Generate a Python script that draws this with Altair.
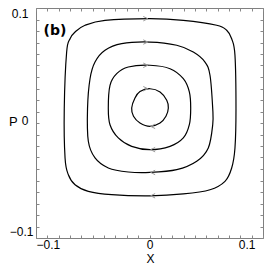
import altair as alt
import pandas as pd

# ---- data (data units) ----
inner_x = [0.0004, 0.0093, 0.0152, 0.0166, 0.0145, 0.0093, 0.0004, -0.0084, -0.0141, -0.0157, -0.0128, -0.0084]
inner_y = [0.0298, 0.0270, 0.0197, 0.0130, 0.0058, 0.0000, -0.0029, 0.0000, 0.0058, 0.0130, 0.0217, 0.0274]

second_x = [0.0004, 0.0181, 0.0298, 0.0351, 0.0363, 0.0351, 0.0298, 0.0181, 0.0004, -0.0157, -0.0275, -0.0348,
            -0.0363, -0.0348, -0.0289, -0.0187]
second_y = [0.0502, 0.0472, 0.0385, 0.0270, 0.0128, -0.0015, -0.0130, -0.0203, -0.0232, -0.0203, -0.0130, -0.0015,
            0.0128, 0.0328, 0.0429, 0.0487]

third_x = [0.0004, 0.0240, 0.0386, 0.0489, 0.0533, 0.0557, 0.0557, 0.0518, 0.0416, 0.0240, 0.0004, -0.0187,
           -0.0363, -0.0480, -0.0539, -0.0546, -0.0524, -0.0480, -0.0392, -0.0245]
third_y = [0.0704, 0.0676, 0.0617, 0.0530, 0.0415, 0.0126, -0.0015, -0.0217, -0.0333, -0.0406, -0.0430, -0.0426,
           -0.0391, -0.0304, -0.0159, 0.0126, 0.0385, 0.0530, 0.0632, 0.0690]

outer_x = [0.0004, 0.0298, 0.0592, 0.0680, 0.0724, 0.0753, 0.0762, 0.0753, 0.0724, 0.0665, 0.0533, 0.0298,
           0.0004, -0.0333, -0.0539, -0.0656, -0.0715, -0.0744, -0.0751, -0.0730, -0.0700, -0.0656, -0.0568, -0.0392]
outer_y = [0.0907, 0.0893, 0.0850, 0.0806, 0.0733, 0.0589, 0.0124, -0.0217, -0.0391, -0.0507, -0.0580, -0.0617,
           -0.0633, -0.0623, -0.0594, -0.0537, -0.0450, -0.0304, 0.0126, 0.0617, 0.0733, 0.0791, 0.0850, 0.0893]

arrow_top_x = [-0.0035, -0.0035, -0.0035, -0.0035]
arrow_top_y = [0.0298, 0.0502, 0.0704, 0.0907]
arrow_bot_x = [0.0030, 0.0030, 0.0030, 0.0030]
arrow_bot_y = [-0.0029, -0.0232, -0.0430, -0.0633]

tick_values = [-0.1, -0.09, -0.08, -0.07, -0.06, -0.05, -0.04, -0.03, -0.02, -0.01, 0.0,
               0.01, 0.02, 0.03, 0.04, 0.05, 0.06, 0.07, 0.08, 0.09, 0.1]
label_values = [-0.1, 0.0, 0.1]
label_texts = ["\u22120.1", "0", "0.1"]

panel_label = ["(b)"]
panel_label_x = [-0.0833]
panel_label_y = [0.0796]

# ---- tables ----
rows = []
for name, xs, ys in [("c1", inner_x, inner_y), ("c2", second_x, second_y),
                     ("c3", third_x, third_y), ("c4", outer_x, outer_y)]:
    for i, (xv, yv) in enumerate(zip(xs, ys)):
        rows.append({"curve": name, "order": i, "x": xv, "y": yv})
curves_df = pd.DataFrame(rows)
top_df = pd.DataFrame({"x": arrow_top_x, "y": arrow_top_y})
bot_df = pd.DataFrame({"x": arrow_bot_x, "y": arrow_bot_y})
lab_df = pd.DataFrame({"t": panel_label, "x": panel_label_x, "y": panel_label_y})

label_expr = " : ".join(
    [f"abs(datum.value - ({v})) < 0.001 ? '{t}'" for v, t in zip(label_values, label_texts)]
) + " : ''"

FONT = "Liberation Sans"
xscale = alt.Scale(domain=[-0.1, 0.1], nice=False, zero=False)
yscale = alt.Scale(domain=[-0.1, 0.1], nice=False, zero=False)

common_axis = dict(values=tick_values, domain=False, grid=False, tickColor="#888888", tickWidth=1,
                   tickSize=alt.ExprRef(expr="-3"), labelOverlap=False, labelBound=False,
                   labelFont=FONT, labelFontSize=12, labelColor="black", labelExpr=label_expr)

x_bottom = alt.Axis(orient="bottom", labelPadding=4,
                    labelOffset=alt.ExprRef(expr="datum.value > 0.05 ? -8 : 0"),
                    title="X", titleFont=FONT, titleFontSize=12, titleFontWeight="normal",
                    titleX=114, titleY=24.5, titleAlign="center", titleBaseline="alphabetic",
                    **common_axis)
y_left = alt.Axis(orient="left",
                  labelPadding=alt.ExprRef(expr="datum.value < -0.05 ? 6 : 11"),
                  labelBaseline=alt.ExprRef(
                      expr="datum.value > 0.05 ? 'top' : (datum.value < -0.05 ? 'bottom' : 'middle')"),
                  labelOffset=alt.ExprRef(expr="abs(datum.value) < 0.001 ? -3 : 0"),
                  title="P", titleFont=FONT, titleFontSize=13, titleFontWeight="normal",
                  titleAngle=0, titleX=-27.5, titleY=113, titleAlign="left", titleBaseline="middle",
                  **common_axis)
x_top = alt.Axis(orient="top", labels=False, title=None, values=tick_values, domain=False, grid=False,
                 tickColor="#888888", tickWidth=1, tickSize=alt.ExprRef(expr="-3"))
y_right = alt.Axis(orient="right", labels=False, title=None, values=tick_values, domain=False, grid=False,
                   tickColor="#888888", tickWidth=1, tickSize=alt.ExprRef(expr="-3"))

curves = alt.Chart(curves_df).mark_line(interpolate="cardinal-closed", color="black", strokeWidth=1.2).encode(
    x=alt.X("x:Q", scale=xscale, axis=x_bottom),
    y=alt.Y("y:Q", scale=yscale, axis=y_left),
    detail="curve:N",
    order="order:Q",
)

arrows_top = alt.Chart(top_df).mark_point(shape="M-1,-1L1,0L-1,1", filled=False, size=20,
                                          color="#999999", strokeWidth=1, opacity=1).encode(
    x=alt.X("x:Q", scale=xscale, axis=x_top),
    y=alt.Y("y:Q", scale=yscale, axis=y_right),
)
arrows_bot = alt.Chart(bot_df).mark_point(shape="M1,-1L-1,0L1,1", filled=False, size=20,
                                          color="#999999", strokeWidth=1, opacity=1).encode(
    x=alt.X("x:Q", scale=xscale, axis=None),
    y=alt.Y("y:Q", scale=yscale, axis=None),
)
label = alt.Chart(lab_df).mark_text(font="DejaVu Sans", fontSize=14, fontWeight="bold", color="black",
                                    align="center", baseline="middle").encode(
    x=alt.X("x:Q", scale=xscale, axis=None),
    y=alt.Y("y:Q", scale=yscale, axis=None),
    text="t:N",
)

chart = alt.layer(curves, arrows_top, arrows_bot, label).resolve_axis(
    x="independent", y="independent"
).properties(
    width=227, height=230,
    autosize=alt.AutoSizeParams(type="none"),
    padding={"left": 28, "top": 0, "right": 2, "bottom": 27},
    background="white",
).configure_view(stroke="#808080", strokeWidth=1)

chart.save("out.html", embed_options={"renderer": "svg", "actions": False})
